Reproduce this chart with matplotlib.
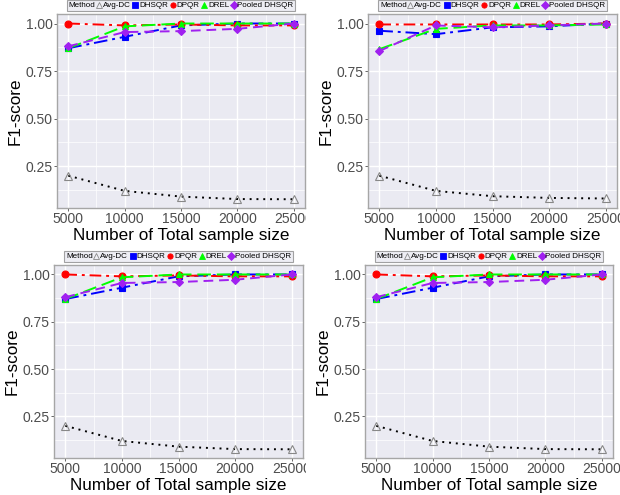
import matplotlib.pyplot as plt
from matplotlib.lines import Line2D
from matplotlib.offsetbox import HPacker
from matplotlib.transforms import Bbox, TransformedBbox

plt.rcParams['font.family'] = ['Liberation Sans', 'DejaVu Sans']

# --- Data ---
sample_size = [5000, 10000, 15000, 20000, 25000]
methods = ["Avg-DC", "DHSQR", "DPQR", "DREL", "Pooled DHSQR"]

# panel A (top-left, also both bottom panels)
a_avgdc = [0.20, 0.12, 0.09, 0.077, 0.076]
a_dhsqr = [0.87, 0.93, 0.99, 1.00, 1.00]
a_dpqr = [1.00, 0.99, 0.995, 0.99, 0.99]
a_drel = [0.87, 0.985, 1.00, 1.00, 1.00]
a_pooled = [0.88, 0.955, 0.96, 0.972, 1.00]

# panel B (top-right)
b_avgdc = [0.20, 0.12, 0.092, 0.083, 0.08]
b_dhsqr = [0.962, 0.944, 0.98, 0.985, 1.00]
b_dpqr = [0.995, 0.995, 0.995, 0.995, 1.00]
b_drel = [0.865, 0.972, 0.99, 0.99, 0.995]
b_pooled = [0.855, 0.99, 0.98, 0.99, 1.00]

panel_a = [a_avgdc, a_dhsqr, a_dpqr, a_drel, a_pooled]
panel_b = [b_avgdc, b_dhsqr, b_dpqr, b_drel, b_pooled]

# --- Styles ---
colors = ["black", "#0000FF", "#FF0000", "#00FF00", "#A020F0"]
linestyles = [(0, (1, 2.5)), (0, (7, 2.5, 1.5, 2.5)), (0, (6, 2.5, 1.5, 2.5)),
              (0, (7, 3)), (0, (5, 3))]
markers = ["^", "s", "o", "^", "D"]
msizes = [6, 5, 5, 5, 3.6]
mfaces = ["none", "#0000FF", "#FF0000", "#00FF00", "#A020F0"]
medges = ["#888888", "#0000FF", "#FF0000", "#00FF00", "#A020F0"]

bg = "#EAEAF2"
fig = plt.figure(figsize=(6.2, 4.95), dpi=100)

# axes rectangles in figure pixels: (left, right, top, bottom)
W, H = 620, 495
boxes = [(57, 305, 14, 208), (368, 617, 14, 208),
         (54, 303, 265, 458), (365, 613, 265, 458)]
datasets = [panel_a, panel_b, panel_a, panel_a]
clip_right = [306, 620, 306, 620]


def draw_panel(ax, data):
    ax.set_facecolor(bg)
    for v in [0.125, 0.375, 0.625, 0.875]:
        ax.axhline(v, color="white", lw=0.5, zorder=0)
    for v in [7500, 12500, 17500, 22500]:
        ax.axvline(v, color="white", lw=0.5, zorder=0)
    ax.grid(True, color="white", lw=1.0, zorder=0)
    ax.set_axisbelow(True)
    for i, m in enumerate(methods):
        ax.plot(sample_size, data[i], color=colors[i], ls=linestyles[i],
                lw=1.4, marker=markers[i], ms=msizes[i],
                mfc=mfaces[i], mec=medges[i], mew=0.8, zorder=3)
    ax.set_xlim(4000, 26000)
    ax.set_ylim(0.03, 1.05)
    ax.set_xticks(sample_size)
    ax.set_yticks([0.25, 0.50, 0.75, 1.00])
    ax.set_yticklabels(["0.25", "0.50", "0.75", "1.00"])
    ax.tick_params(labelsize=10, labelcolor="#4D4D4D", color="#4D4D4D",
                   length=2, width=0.6, pad=1)
    for s in ax.spines.values():
        s.set_color("#A6A6A6")
        s.set_linewidth(1.0)
    ax.set_xlabel("Number of Total sample size", fontsize=12.3, labelpad=1)
    ax.set_ylabel("F1-score", fontsize=12.3, labelpad=2)

    handles = []
    for i, m in enumerate(methods):
        handles.append(Line2D([], [], ls="none", marker=markers[i], ms=3.8,
                              mfc=mfaces[i], mec=medges[i], mew=0.6, label=m))
    leg = ax.legend(handles=handles, loc="lower center", title="Method",
                    title_fontsize=5.8, bbox_to_anchor=(0.5, 1.015), ncol=5,
                    fontsize=5.8, frameon=True, fancybox=False,
                    handlelength=0.55, handletextpad=0.2, columnspacing=0.3,
                    borderpad=0.2, borderaxespad=0)
    # put the title on the same row as the keys (ggplot style)
    old = leg._legend_box
    box = HPacker(pad=old.pad, sep=0.2 * 5.8, align="baseline",
                  children=[leg._legend_title_box, leg._legend_handle_box])
    box.set_figure(fig)
    box.axes = ax
    box.set_offset(leg._findoffset)
    leg._legend_box = box
    leg.get_frame().set_facecolor(bg)
    leg.get_frame().set_edgecolor("#8C8C8C")
    leg.get_frame().set_linewidth(0.8)


for (l, r, t, b), data, cr in zip(boxes, datasets, clip_right):
    ax = fig.add_axes([l / W, 1 - b / H, (r - l) / W, (b - t) / H])
    draw_panel(ax, data)
    clip = TransformedBbox(Bbox([[0, 0], [cr / W, 1]]), fig.transFigure)
    for lab in ax.get_xticklabels():
        lab.set_clip_box(clip)
        lab.set_clip_on(True)

fig.savefig("out.png", dpi=100)
